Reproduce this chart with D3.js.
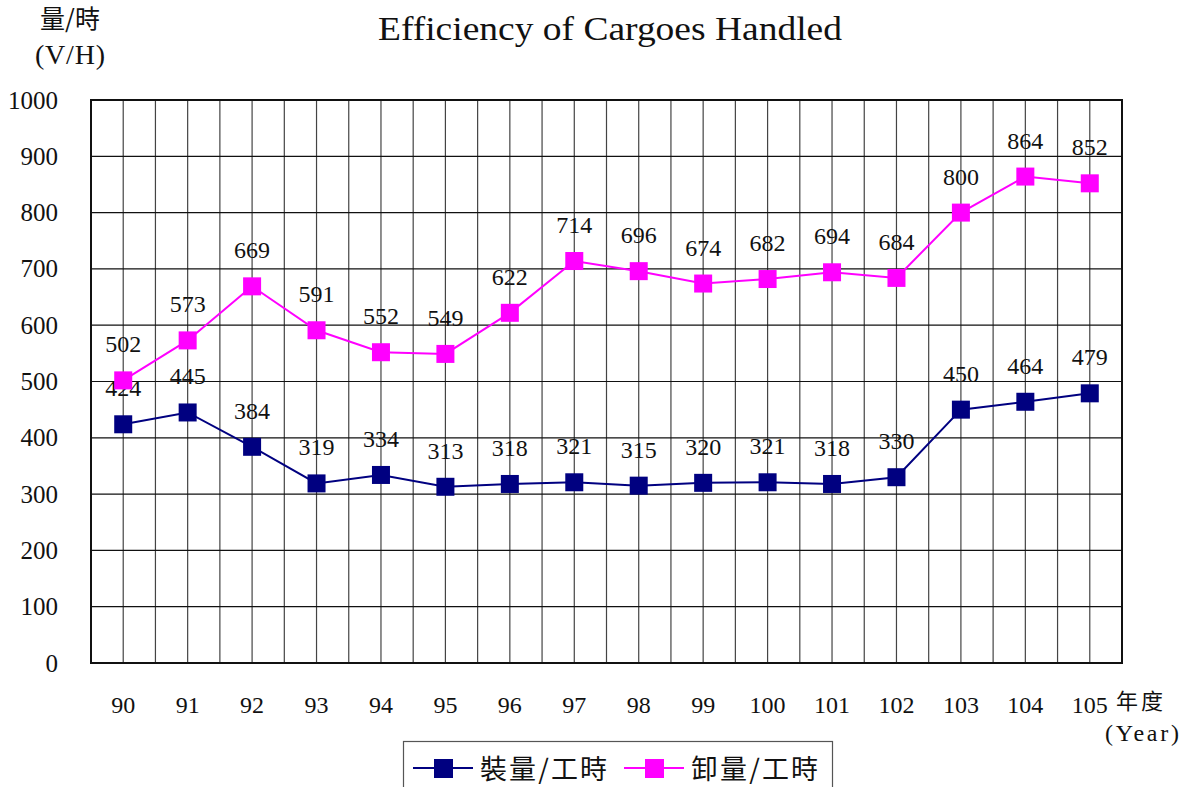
<!DOCTYPE html>
<html>
<head>
<meta charset="utf-8">
<script src="https://cdn.jsdelivr.net/npm/d3@7"></script>
<style>
  body { margin: 0; background: #fff; }
</style>
</head>
<body>
<div id="chart"></div>
<script>

// data
var years = ["90","91","92","93","94","95","96","97","98","99","100","101","102","103","104","105"];
var loading = [424,445,384,319,334,313,318,321,315,320,321,318,330,450,464,479];
var unloading = [502,573,669,591,552,549,622,714,696,674,682,694,684,800,864,852];
var yTicks = [0,100,200,300,400,500,600,700,800,900,1000];
var seriesNames = ["裝量/工時","卸量/工時"];
var colors = ["#000080","#ff00ff"];

var SERIF = "'Liberation Serif', 'DejaVu Serif', serif";
var CJK = "'Noto Sans CJK TC', sans-serif";

var W = 1181, H = 787;
var plot = { left: 91, right: 1122, top: 100, bottom: 663 };

var svg = d3.select("#chart")
    .append("svg")
    .attr("width", W)
    .attr("height", H);

var x = d3.scaleBand()
    .domain(years)
    .range([plot.left, plot.right]);

var y = d3.scaleLinear()
    .domain([0, 1000])
    .range([plot.bottom, plot.top]);

var cx = function(d, i){ return x(years[i]) + x.bandwidth() / 2 };

// grid
var vlines = [];
years.forEach(function(d){
    vlines.push(x(d));
    vlines.push(x(d) + x.bandwidth() / 2);
});

svg.append("g").selectAll("line")
    .data(vlines).enter()
    .append("line")
    .attr("x1", function(d){ return d })
    .attr("x2", function(d){ return d })
    .attr("y1", plot.top)
    .attr("y2", plot.bottom)
    .attr("stroke", "#444")
    .attr("stroke-width", 1.2);

svg.append("g").selectAll("line")
    .data(yTicks).enter()
    .append("line")
    .attr("x1", plot.left)
    .attr("x2", plot.right)
    .attr("y1", function(d){ return y(d) })
    .attr("y2", function(d){ return y(d) })
    .attr("stroke", "#111")
    .attr("stroke-width", 1.2);

svg.append("rect")
    .attr("x", plot.left)
    .attr("y", plot.top)
    .attr("width", plot.right - plot.left)
    .attr("height", plot.bottom - plot.top)
    .attr("fill", "none")
    .attr("stroke", "#111")
    .attr("stroke-width", 2);

// axes
var yAxis = svg.append("g")
    .attr("transform", "translate(" + plot.left + ",0)")
    .call(d3.axisLeft(y).tickValues(yTicks).tickFormat(d3.format("d")).tickSize(0).tickPadding(33));
yAxis.select(".domain").remove();
yAxis.attr("font-family", null).attr("font-size", null);
yAxis.selectAll("text")
    .style("font-family", SERIF)
    .style("font-size", "25px")
    .attr("fill", "#111");

var xAxis = svg.append("g")
    .attr("transform", "translate(0," + plot.bottom + ")")
    .call(d3.axisBottom(x).tickSize(0).tickPadding(33));
xAxis.select(".domain").remove();
xAxis.attr("font-family", null).attr("font-size", null);
xAxis.selectAll("text")
    .style("font-family", SERIF)
    .style("font-size", "24px")
    .attr("fill", "#111");

// titles
svg.append("text")
    .attr("x", 610)
    .attr("y", 40)
    .attr("text-anchor", "middle")
    .attr("textLength", 464)
    .attr("lengthAdjust", "spacingAndGlyphs")
    .style("font-family", SERIF)
    .style("font-size", "34px")
    .attr("fill", "#111")
    .text("Efficiency of Cargoes Handled");

svg.append("text")
    .attr("x", 70)
    .attr("y", 28)
    .attr("text-anchor", "middle")
    .style("font-family", CJK)
    .style("font-size", "25px")
    .attr("fill", "#111")
    .text("量/時");

svg.append("text")
    .attr("x", 70)
    .attr("y", 64)
    .attr("text-anchor", "middle")
    .attr("textLength", 70)
    .attr("lengthAdjust", "spacing")
    .style("font-family", SERIF)
    .style("font-size", "28px")
    .attr("fill", "#111")
    .text("(V/H)");

svg.append("text")
    .attr("x", 1141)
    .attr("y", 709)
    .attr("text-anchor", "middle")
    .style("font-family", CJK)
    .style("font-size", "22px")
    .style("letter-spacing", "3px")
    .attr("fill", "#111")
    .text("年度");

svg.append("text")
    .attr("x", 1142)
    .attr("y", 741)
    .attr("text-anchor", "middle")
    .attr("textLength", 74)
    .attr("lengthAdjust", "spacing")
    .style("font-family", SERIF)
    .style("font-size", "24px")
    .attr("fill", "#111")
    .text("(Year)");

// series
var series = [loading, unloading];

var line = d3.line()
    .x(function(d, i){ return cx(d, i) })
    .y(function(d){ return y(d) });

series.forEach(function(s, k){
    var g = svg.append("g");

    g.append("path")
        .datum(s)
        .attr("d", line)
        .attr("fill", "none")
        .attr("stroke", colors[k])
        .attr("stroke-width", 2);

    g.selectAll("rect")
        .data(s).enter()
        .append("rect")
        .attr("x", function(d, i){ return cx(d, i) - 9 })
        .attr("y", function(d){ return y(d) - 9 })
        .attr("width", 18)
        .attr("height", 18)
        .attr("fill", colors[k]);

    g.selectAll("text")
        .data(s).enter()
        .append("text")
        .attr("x", function(d, i){ return cx(d, i) })
        .attr("y", function(d){ return y(d) - 28 })
        .attr("text-anchor", "middle")
        .style("font-family", SERIF)
        .style("font-size", "24px")
        .attr("fill", "#111")
        .text(function(d){ return d });
});

// legend
var legend = svg.append("g");

legend.append("rect")
    .attr("x", 403.5)
    .attr("y", 741.5)
    .attr("width", 429)
    .attr("height", 60)
    .attr("fill", "#fff")
    .attr("stroke", "#555")
    .attr("stroke-width", 1.2);

var legendX = [413, 624];
seriesNames.forEach(function(name, k){
    var lx = legendX[k];
    legend.append("line")
        .attr("x1", lx)
        .attr("x2", lx + 60)
        .attr("y1", 768)
        .attr("y2", 768)
        .attr("stroke", colors[k])
        .attr("stroke-width", 2);
    legend.append("rect")
        .attr("x", lx + 21)
        .attr("y", 759)
        .attr("width", 19)
        .attr("height", 19)
        .attr("fill", colors[k]);
    legend.append("text")
        .attr("x", lx + 67)
        .attr("y", 779)
        .attr("textLength", 127)
        .attr("lengthAdjust", "spacing")
        .style("font-family", CJK)
        .style("font-size", "27px")
        .attr("fill", "#111")
        .text(name);
});

</script>
</body>
</html>
